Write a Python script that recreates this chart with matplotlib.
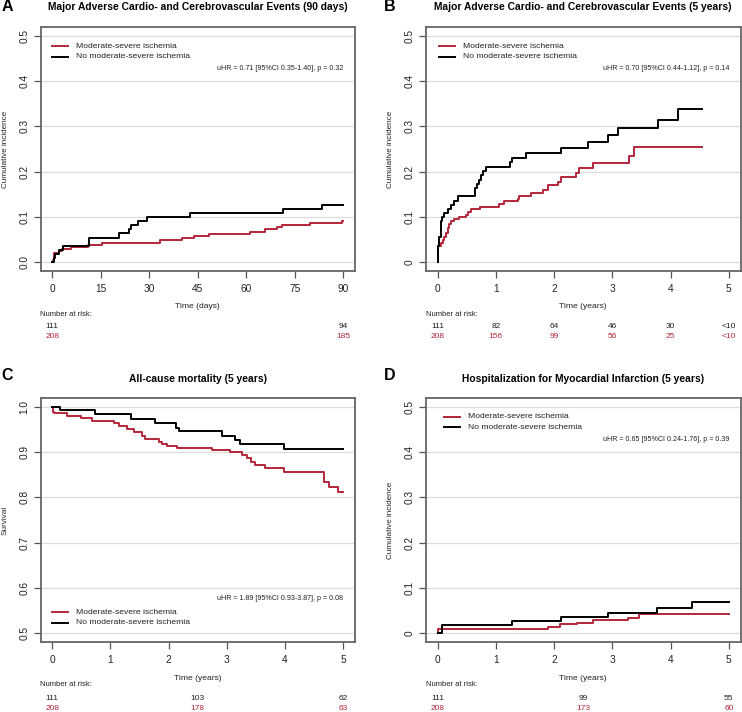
import matplotlib
matplotlib.use("Agg")
import matplotlib.pyplot as plt
from matplotlib.lines import Line2D

plt.rcParams['font.family'] = ['Liberation Sans', 'DejaVu Sans']

RED = "#b5263a"
BLACK = "#000000"
W, H = 742, 712

# ---------------- data ----------------
# Panel A: MACCE 90 days
A_black_t = [0, 0.5, 1.0, 2.1, 3.4, 11.3, 20.6, 23.7, 24.5, 26.4, 29.3, 42.7, 71.3, 83.5, 90]
A_black_y = [0, 0.009, 0.018, 0.027, 0.036, 0.054, 0.063, 0.072, 0.081, 0.090, 0.099, 0.108, 0.117, 0.126, 0.126]
A_red_t = [0, 0.2, 0.5, 2.1, 3.1, 5.7, 11.0, 15.4, 33.4, 40.1, 43.7, 48.4, 61.2, 65.8, 69.4, 71.0, 79.7, 89.5, 90]
A_red_y = [0, 0.005, 0.019, 0.024, 0.029, 0.033, 0.038, 0.043, 0.048, 0.053, 0.058, 0.062, 0.067, 0.072, 0.077, 0.082, 0.087, 0.091, 0.091]

# Panel B: MACCE 5 years
B_black_t = [0, 0.011, 0.029, 0.057, 0.074, 0.115, 0.183, 0.229, 0.286, 0.344, 0.641, 0.676, 0.704, 0.745,
             0.773, 0.830, 1.249, 1.271, 1.523, 2.119, 2.577, 2.921, 3.104, 3.780, 4.124, 4.542]
B_black_y = [0, 0.035, 0.055, 0.090, 0.100, 0.108, 0.117, 0.126, 0.135, 0.145, 0.163, 0.172, 0.182, 0.192,
             0.202, 0.211, 0.222, 0.231, 0.241, 0.253, 0.266, 0.281, 0.297, 0.315, 0.339, 0.339]
B_red_t = [0, 0.011, 0.05, 0.09, 0.115, 0.143, 0.172, 0.2, 0.229, 0.286, 0.372, 0.487, 0.527, 0.573, 0.733,
           1.06, 1.145, 1.375, 1.403, 1.604, 1.805, 1.890, 2.062, 2.119, 2.377, 2.434, 2.663, 3.282, 3.379, 4.542]
B_red_y = [0, 0.035, 0.043, 0.048, 0.055, 0.065, 0.075, 0.085, 0.090, 0.095, 0.100, 0.103, 0.110, 0.117, 0.122,
           0.128, 0.134, 0.139, 0.147, 0.153, 0.160, 0.170, 0.178, 0.187, 0.197, 0.207, 0.219, 0.235, 0.254, 0.254]

# Panel C: all-cause mortality (survival)
C_black_t = [0, 0.143, 0.73, 1.36, 1.76, 2.12, 2.18, 2.92, 3.14, 3.22, 3.98, 5.0]
C_black_y = [1.0, 0.993, 0.984, 0.974, 0.964, 0.954, 0.947, 0.937, 0.928, 0.918, 0.907, 0.907]
C_red_t = [0, 0.01, 0.02, 0.03, 0.26, 0.49, 0.69, 1.06, 1.14, 1.29, 1.40, 1.55, 1.60, 1.83, 1.89, 1.98, 2.15,
           2.75, 3.06, 3.26, 3.35, 3.41, 3.49, 3.66, 3.98, 4.67, 4.75, 4.90, 5.0]
C_red_y = [1.0, 0.995, 0.990, 0.986, 0.981, 0.975, 0.968, 0.964, 0.957, 0.951, 0.944, 0.937, 0.929, 0.923,
           0.918, 0.914, 0.910, 0.904, 0.900, 0.894, 0.887, 0.879, 0.872, 0.865, 0.856, 0.834, 0.824, 0.812, 0.812]

# Panel D: hospitalization for MI
D_black_t = [0, 0.07, 1.27, 2.12, 2.92, 3.77, 4.36, 5.0]
D_black_y = [0, 0.017, 0.026, 0.036, 0.045, 0.056, 0.069, 0.069]
D_red_t = [0, 0.001, 1.90, 2.10, 2.39, 2.66, 3.26, 3.45, 5.0]
D_red_y = [0, 0.009, 0.013, 0.019, 0.023, 0.028, 0.034, 0.042, 0.042]

legend_labels = ["Moderate-severe ischemia", "No moderate-severe ischemia"]

A_risk_t = [0, 90]
A_risk_black = ["111", "94"]
A_risk_red = ["208", "185"]
B_risk_t = [0, 1, 2, 3, 4, 5]
B_risk_black = ["111", "82", "64", "46", "30", "<10"]
B_risk_red = ["208", "156", "99", "56", "25", "<10"]
C_risk_t = [0, 2.5, 5]
C_risk_black = ["111", "103", "62"]
C_risk_red = ["208", "178", "63"]
D_risk_t = [0, 2.5, 5]
D_risk_black = ["111", "99", "55"]
D_risk_red = ["208", "173", "60"]

fig = plt.figure(figsize=(W / 100, H / 100), dpi=100)
fig.patch.set_facecolor("white")


def fx(x):
    return x / W


def fy(y):
    return 1 - y / H


def ftext(x, y, s, **kw):
    fig.text(fx(x), fy(y), s, **kw)


def fline(x0, x1, y, color):
    fig.add_artist(Line2D([fx(x0), fx(x1)], [fy(y), fy(y)], color=color, lw=1.4,
                          transform=fig.transFigure))


def panel(left, top, letter, title, xticks, xlim, yticks, ylim, ytl, ylabel, xlabel,
          series, risk_t, risk_black, risk_red, legend_pos, hr_text, hr_pos):
    right = left + 314.5
    bottom = top + 244
    ax = fig.add_axes([fx(left), fy(bottom), (right - left) / W, (bottom - top) / H])
    for t, y, c in series:
        ax.step(t, y, where="post", color=c, lw=1.4, zorder=3)
    ax.set_xlim(*xlim)
    ax.set_ylim(*ylim)
    ax.set_xticks(xticks)
    ax.set_xticklabels([str(v) for v in xticks])
    ax.set_yticks(yticks)
    ax.set_yticklabels(ytl, rotation=90, va="center")
    for yv in yticks:
        ax.axhline(yv, color="#dcdcdc", lw=0.9, zorder=1)
    for s in ax.spines.values():
        s.set_color("#666666")
        s.set_linewidth(1.3)
    ax.tick_params(axis="both", direction="out", length=5, width=0.9, color="#555555",
                   labelsize=7.3, labelcolor="#222222")
    ax.tick_params(axis="x", pad=4.5)
    ax.tick_params(axis="y", pad=3)
    # panel letter & title
    top_row = letter in "AB"
    lx_letter = left - 39 if letter in "AC" else left - 42
    ftext(lx_letter, top - (16.3 if top_row else 18), letter, fontsize=11.5,
          fontweight="bold", ha="left", va="baseline")
    ftext((left + right) / 2, top - (17.3 if top_row else 15.5), title,
          fontsize=7.4, fontweight="bold", ha="center", va="baseline")
    # axis labels
    ftext(left - 35, (top + bottom) / 2, ylabel, fontsize=5.9, rotation=90, ha="center",
          va="center", color="#222222")
    ftext((left + right) / 2, bottom + 36, xlabel, fontsize=6.1, ha="center", va="center",
          color="#222222")
    # legend
    lx, ly = legend_pos
    fline(lx, lx + 16, ly, RED)
    fline(lx, lx + 16, ly + 10.5, BLACK)
    ftext(lx + 24, ly, legend_labels[0], fontsize=6.1, ha="left", va="center", color="#222222")
    ftext(lx + 24, ly + 10.5, legend_labels[1], fontsize=6.1, ha="left", va="center",
          color="#222222")
    hx, hy = hr_pos
    ftext(hx, hy, hr_text, fontsize=5.15, ha="right", va="center", color="#222222")
    # risk table
    ftext(left, bottom + 43, "Number at risk:", fontsize=5.5, ha="left", va="center",
          color="#222222")
    x0, x1 = xlim
    for t, b, r in zip(risk_t, risk_black, risk_red):
        xp = left + (t - x0) / (x1 - x0) * (right - left)
        ftext(xp, bottom + 56, b, fontsize=6.0, ha="center", va="center", color="#222222")
        ftext(xp, bottom + 66, r, fontsize=6.0, ha="center", va="center", color=RED)
    return ax


def ext(a, b):
    d = (b - a) * 0.04
    return (a - d, b + d)


panel(40.5, 27, "A", "Major Adverse Cardio- and Cerebrovascular Events (90 days)",
      [0, 15, 30, 45, 60, 75, 90], ext(0, 90), [0, 0.1, 0.2, 0.3, 0.4, 0.5], ext(0, 0.5),
      ["0.0", "0.1", "0.2", "0.3", "0.4", "0.5"], "Cumulative incidence", "Time (days)",
      [(A_red_t, A_red_y, RED), (A_black_t, A_black_y, BLACK)],
      A_risk_t, A_risk_black, A_risk_red, (52, 46), "uHR = 0.71 [95%CI 0.35-1.40], p = 0.32", (343, 69))

panel(426, 27, "B", "Major Adverse Cardio- and Cerebrovascular Events (5 years)",
      [0, 1, 2, 3, 4, 5], ext(0, 5), [0, 0.1, 0.2, 0.3, 0.4, 0.5], ext(0, 0.5),
      ["0", "0.1", "0.2", "0.3", "0.4", "0.5"], "Cumulative incidence", "Time (years)",
      [(B_red_t, B_red_y, RED), (B_black_t, B_black_y, BLACK)],
      B_risk_t, B_risk_black, B_risk_red, (439, 46), "uHR = 0.70 [95%CI 0.44-1.12], p = 0.14", (729, 69))

panel(40.5, 398, "C", "All-cause mortality (5 years)",
      [0, 1, 2, 3, 4, 5], ext(0, 5), [0.5, 0.6, 0.7, 0.8, 0.9, 1.0], ext(0.5, 1.0),
      ["0.5", "0.6", "0.7", "0.8", "0.9", "1.0"], "Survival", "Time (years)",
      [(C_red_t, C_red_y, RED), (C_black_t, C_black_y, BLACK)],
      C_risk_t, C_risk_black, C_risk_red, (52, 612), "uHR = 1.89 [95%CI 0.93-3.87], p = 0.08", (343, 598))

panel(426, 398, "D", "Hospitalization for Myocardial Infarction (5 years)",
      [0, 1, 2, 3, 4, 5], ext(0, 5), [0, 0.1, 0.2, 0.3, 0.4, 0.5], ext(0, 0.5),
      ["0", "0.1", "0.2", "0.3", "0.4", "0.5"], "Cumulative incidence", "Time (years)",
      [(D_red_t, D_red_y, RED), (D_black_t, D_black_y, BLACK)],
      D_risk_t, D_risk_black, D_risk_red, (444, 417), "uHR = 0.65 [95%CI 0.24-1.76], p = 0.39", (729, 440))

fig.savefig("out.png", dpi=100, facecolor="white")
